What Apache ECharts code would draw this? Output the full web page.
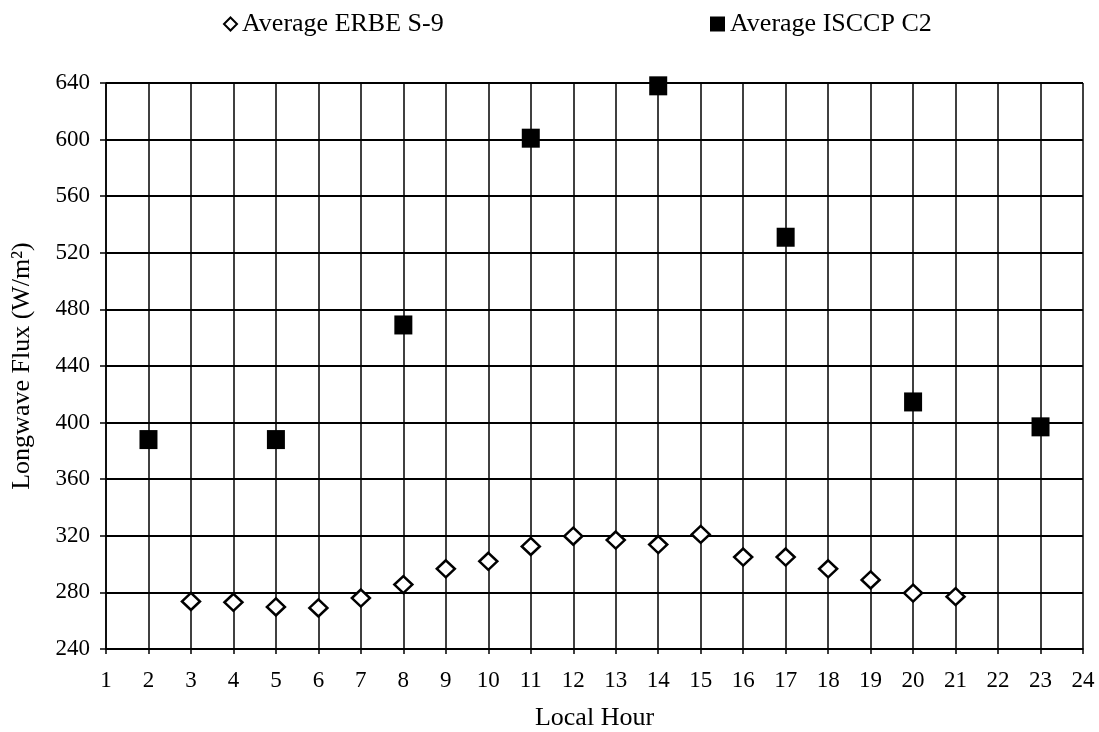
<!DOCTYPE html>
<html><head><meta charset="utf-8">
<script src="https://cdn.jsdelivr.net/npm/echarts@6/dist/echarts.min.js"></script>
<style>html,body{margin:0;padding:0;background:#fff}#c{width:1099px;height:732px}</style>
</head><body><div id="c"></div>
<script>
const erbeHours = [3,4,5,6,7,8,9,10,11,12,13,14,15,16,17,18,19,20,21];
const erbeValues = [273.6,273,269.7,269,276,285.5,296.7,302,312.5,319.7,317,313.8,321,305,305,296.7,288.8,279.5,277];
const isccpHours = [2,5,8,11,14,17,20,23];
const isccpValues = [388,388,469,601,638,531,414.6,397];
const seriesNames = ['Average ERBE S-9','Average ISCCP C2'];
const xTitle = 'Local Hour';
const yTitle = 'Longwave Flux (W/m²)';

const font = 'Liberation Serif';
const chart = echarts.init(document.getElementById('c'));
chart.setOption({
  animation:false,
  backgroundColor:'#fff',
  legend:[
    {data:[seriesNames[0]], left:218, top:6, itemWidth:13, itemHeight:13, itemGap:4,
     textStyle:{fontFamily:font,fontSize:26,color:'#000'}},
    {data:[seriesNames[1]], left:705, top:6, itemWidth:15, itemHeight:15, itemGap:4,
     textStyle:{fontFamily:font,fontSize:26,color:'#000'}}
  ],
  grid:{left:106,right:16,top:83,bottom:83,containLabel:false,outerBoundsMode:'none'},
  xAxis:{type:'value',min:1,max:24,interval:1,
    name:xTitle,nameLocation:'middle',nameGap:56,
    nameTextStyle:{fontFamily:font,fontSize:26,color:'#000'},
    axisLine:{lineStyle:{color:'#000',width:1.5}},
    axisTick:{show:true,length:5,lineStyle:{color:'#000',width:1.5}},
    axisLabel:{fontFamily:font,fontSize:23,color:'#000',margin:20},
    splitLine:{show:true,lineStyle:{color:'#000',width:1.5}}},
  yAxis:{type:'value',min:240,max:640,interval:40,
    name:yTitle,nameLocation:'middle',nameGap:71,
    nameTextStyle:{fontFamily:font,fontSize:26,color:'#000'},
    axisLine:{show:true,lineStyle:{color:'#000',width:1.5}},
    axisTick:{show:true,length:6,lineStyle:{color:'#000',width:1.5}},
    axisLabel:{fontFamily:font,fontSize:23,color:'#000',margin:16},
    splitLine:{show:true,lineStyle:{color:'#000',width:1.8}}},
  series:[
    {name:seriesNames[0],type:'scatter',symbol:'diamond',symbolSize:[18,17],
     itemStyle:{color:'#fff',borderColor:'#000',borderWidth:2.5,opacity:1},
     data:erbeHours.map((h,i)=>[h,erbeValues[i]])},
    {name:seriesNames[1],type:'scatter',symbol:'rect',symbolSize:[18,19],
     itemStyle:{color:'#000',opacity:1},
     data:isccpHours.map((h,i)=>[h,isccpValues[i]])}
  ]
});
</script></body></html>
